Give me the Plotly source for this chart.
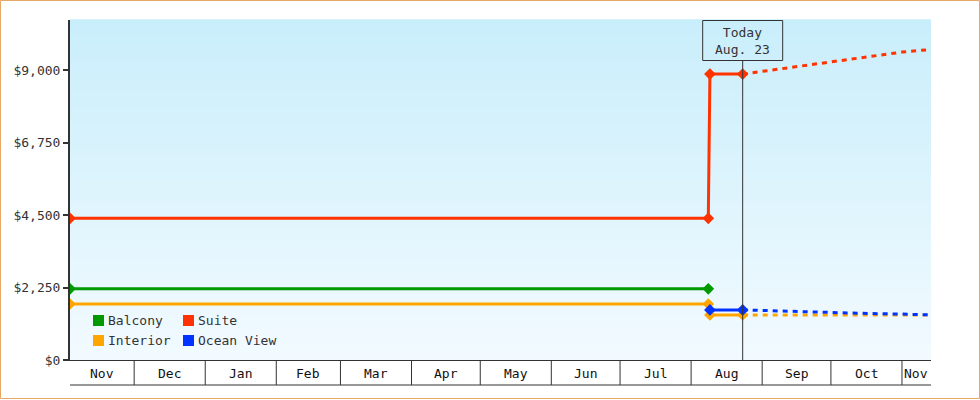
import pandas as pd
import plotly.graph_objects as go

# price history (solid part)
balcony_dates = ["2012-11-03", "2013-08-08 12:00"]
balcony_prices = [2210, 2210]
suite_dates = ["2012-11-03", "2013-08-08 12:00", "2013-08-09 05:00", "2013-08-23 12:00"]
suite_prices = [4400, 4400, 8880, 8880]
interior_dates = ["2012-11-03", "2013-08-08 12:00", "2013-08-09 05:00", "2013-08-23 12:00"]
interior_prices = [1740, 1740, 1400, 1400]
ocean_dates = ["2013-08-09 05:00", "2013-08-23 12:00"]
ocean_prices = [1556, 1556]

# forecast (dotted part)
forecast_dates = ["2013-08-23 12:00", "2013-09-06", "2013-09-20", "2013-10-04",
                  "2013-10-18", "2013-11-01", "2013-11-14"]
suite_forecast = [8880, 9015, 9154, 9284, 9424, 9563, 9647]
interior_forecast = [1400, 1400, 1400, 1400, 1400, 1400, 1400]
ocean_forecast = [1556, 1525, 1494, 1473, 1442, 1426, 1401]

series_names = ["Balcony", "Suite", "Interior", "Ocean View"]
series_colors = ["#009900", "#ff3300", "#ffa500", "#0033ff"]

today = "2013-08-23 12:00"
today_text = "Today<br>Aug. 23"
x_start, x_end = "2012-11-03", "2013-11-13 16:00"
month_starts = ["2012-12-01", "2013-01-01", "2013-02-01", "2013-03-01", "2013-04-01",
                "2013-05-01", "2013-06-01", "2013-07-01", "2013-08-01", "2013-09-01",
                "2013-10-01", "2013-11-01"]
month_labels = ["Nov", "Dec", "Jan", "Feb", "Mar", "Apr", "May", "Jun", "Jul", "Aug",
                "Sep", "Oct", "Nov"]
y_ticks = [0, 2250, 4500, 6750, 9000]
y_labels = ["$0", "$2,250", "$4,500", "$6,750", "$9,000"]

W, H = 980, 400
L, R, T, B = 70, 49, 20, 40
PW, PH = W - L - R, H - T - B
FONT = "DejaVu Sans Mono"
INK = "#333333"


def fx(px):
    return (px - L) / PW


def fy(py):
    return (H - B - py) / PH


fig = go.Figure()

history = [(balcony_dates, balcony_prices), (suite_dates, suite_prices),
           (interior_dates, interior_prices), (ocean_dates, ocean_prices)]
forecast = {"Suite": suite_forecast, "Interior": interior_forecast,
            "Ocean View": ocean_forecast}

# dotted forecasts first so the solid lines sit on top
for name, color in zip(series_names, series_colors):
    if name in forecast:
        fig.add_trace(go.Scatter(x=forecast_dates, y=forecast[name], mode="lines",
                                 line=dict(color=color, width=3, dash="5px,5px"),
                                 showlegend=False, hoverinfo="skip"))

for (dates, prices), name, color in zip(history, series_names, series_colors):
    fig.add_trace(go.Scatter(x=dates, y=prices, mode="lines+markers", name=name,
                             line=dict(color=color, width=3),
                             marker=dict(symbol="diamond", size=9, color=color),
                             showlegend=False))

shapes = []
annotations = []

# vertical gradient in the plot area
n = 68
top_c, bot_c = (201, 238, 251), (242, 250, 255)
for i in range(n):
    t = i / (n - 1)
    c = tuple(round(top_c[k] + (bot_c[k] - top_c[k]) * t) for k in range(3))
    shapes.append(dict(type="rect", xref="paper", yref="paper", x0=0, x1=1,
                       y0=1 - (i + 1) / n, y1=1 - i / n + 0.002, layer="below",
                       line=dict(width=0), fillcolor="rgb(%d,%d,%d)" % c))

# month cells under the x axis
cell_bottom = fy(385)
for d in month_starts:
    shapes.append(dict(type="line", xref="x", yref="paper", x0=d, x1=d,
                       y0=0, y1=cell_bottom, line=dict(color=INK, width=1)))
shapes.append(dict(type="line", xref="paper", yref="paper", x0=0, x1=1,
                   y0=cell_bottom, y1=cell_bottom, line=dict(color=INK, width=1)))

edges = [pd.Timestamp(x_start)] + [pd.Timestamp(d) for d in month_starts] + [pd.Timestamp(x_end)]
for a, b, label in zip(edges[:-1], edges[1:], month_labels):
    annotations.append(dict(x=a + (b - a) / 2, xref="x", y=fy(373), yref="paper",
                            text=label, showarrow=False, yanchor="middle",
                            font=dict(family=FONT, size=13, color="#111111")))

# today marker
shapes.append(dict(type="line", xref="x", yref="paper", x0=today, x1=today,
                   y0=0, y1=fy(60), line=dict(color=INK, width=1)))
shapes.append(dict(type="rect", xref="x", xsizemode="pixel", xanchor=today, x0=-40, x1=40,
                   yref="paper", y0=fy(60.5), y1=fy(20.5), line=dict(color=INK, width=1)))
annotations.append(dict(x=today, xref="x", y=fy(41), yref="paper", text=today_text,
                        showarrow=False, yanchor="middle",
                        font=dict(family=FONT, size=13, color=INK)))

# legend drawn by hand: two columns of colour squares
for i, (name, color) in enumerate(zip(series_names, series_colors)):
    col, row = i % 2, i // 2
    x0 = 93 + col * 90
    y0 = 315 + row * 20
    shapes.append(dict(type="rect", xref="paper", yref="paper", x0=fx(x0), x1=fx(x0 + 11),
                       y0=fy(y0 + 11), y1=fy(y0), fillcolor=color, line=dict(width=0)))
    annotations.append(dict(x=fx(x0 + 13), xref="paper", y=fy(y0 + 5.5), yref="paper",
                            text=name, showarrow=False, xanchor="left", yanchor="middle",
                            font=dict(family=FONT, size=13, color=INK)))

# orange frame round the whole picture
shapes.append(dict(type="rect", xref="paper", yref="paper", x0=fx(0.5), x1=fx(979.5),
                   y0=fy(398.5), y1=fy(0.5), line=dict(color="#e8a865", width=1)))

fig.update_layout(
    width=W, height=H, margin=dict(l=L, r=R, t=T, b=B),
    paper_bgcolor="white", plot_bgcolor="white",
    shapes=shapes, annotations=annotations,
    xaxis=dict(range=[x_start, x_end], showgrid=False, zeroline=False,
               showticklabels=False, ticks="", showline=True, linecolor=INK, linewidth=1),
    yaxis=dict(range=[0, 10560], tickvals=y_ticks, ticktext=y_labels, showgrid=False,
               zeroline=False, showline=True, linecolor=INK, linewidth=2, ticks="outside",
               ticklen=5, tickwidth=2, tickcolor=INK,
               tickfont=dict(family=FONT, size=13, color=INK)),
    showlegend=False,
)

fig.write_html("out.html", config={"displayModeBar": False},
               post_script="document.body.style.margin='0';")
